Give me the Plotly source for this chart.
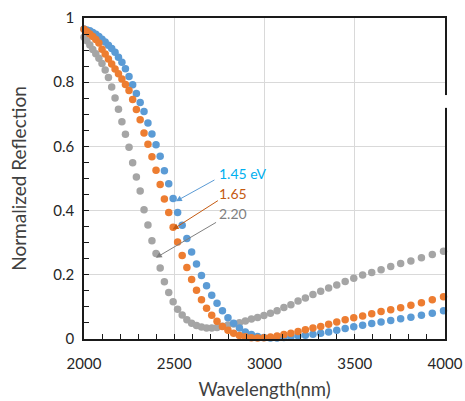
import plotly.graph_objects as go

wavelength_nm = [
    2000.0, 2016.0, 2032.2, 2048.7, 2065.4, 2082.5, 2099.8, 2117.4, 2135.3, 2153.5,
    2172.0, 2190.9, 2210.0, 2229.6, 2249.4, 2269.6, 2290.2, 2311.2, 2332.5, 2354.3,
    2376.4, 2399.0, 2422.0, 2445.4, 2469.4, 2493.8, 2518.6, 2544.0, 2569.9, 2596.3,
    2623.3, 2650.8, 2679.0, 2707.7, 2737.0, 2767.0, 2797.7, 2829.0, 2861.1, 2893.8,
    2927.4, 2961.7, 2996.9, 3032.9, 3069.7, 3107.5, 3146.2, 3185.9, 3226.6, 3268.4,
    3311.3, 3355.3, 3400.4, 3446.9, 3494.5, 3543.6, 3594.0, 3645.9, 3699.3, 3754.3,
    3811.0, 3869.4, 3929.6, 3991.7,
]

refl_145 = [
    0.966, 0.963, 0.960, 0.955, 0.949, 0.942, 0.934, 0.925, 0.915, 0.905,
    0.893, 0.878, 0.862, 0.842, 0.818, 0.792, 0.765, 0.737, 0.709, 0.673,
    0.639, 0.605, 0.569, 0.524, 0.484, 0.438, 0.394, 0.354, 0.313, 0.271,
    0.234, 0.198, 0.166, 0.136, 0.111, 0.088, 0.066, 0.049, 0.034, 0.022,
    0.014, 0.008, 0.005, 0.003, 0.003, 0.005, 0.007, 0.010, 0.012, 0.015,
    0.018, 0.022, 0.027, 0.033, 0.038, 0.043, 0.048, 0.053, 0.058, 0.063,
    0.068, 0.074, 0.080, 0.088,
]

refl_165 = [
    0.965, 0.958, 0.950, 0.942, 0.933, 0.922, 0.903, 0.888, 0.872, 0.857,
    0.841, 0.826, 0.810, 0.793, 0.774, 0.746, 0.715, 0.683, 0.642, 0.607,
    0.568, 0.526, 0.481, 0.436, 0.394, 0.348, 0.302, 0.260, 0.223, 0.185,
    0.152, 0.122, 0.096, 0.074, 0.055, 0.039, 0.027, 0.018, 0.011, 0.007,
    0.004, 0.003, 0.004, 0.006, 0.009, 0.014, 0.018, 0.023, 0.029, 0.034,
    0.039, 0.046, 0.053, 0.060, 0.066, 0.072, 0.079, 0.086, 0.091, 0.097,
    0.105, 0.113, 0.122, 0.132,
]

refl_220 = [
    0.940, 0.929, 0.916, 0.902, 0.889, 0.875, 0.858, 0.838, 0.815, 0.785,
    0.751, 0.716, 0.677, 0.638, 0.597, 0.549, 0.505, 0.461, 0.403, 0.355,
    0.306, 0.266, 0.221, 0.178, 0.145, 0.116, 0.093, 0.075, 0.060, 0.049,
    0.042, 0.037, 0.034, 0.034, 0.036, 0.040, 0.044, 0.047, 0.051, 0.056,
    0.062, 0.067, 0.073, 0.080, 0.088, 0.098, 0.107, 0.118, 0.128, 0.139,
    0.149, 0.159, 0.168, 0.179, 0.189, 0.199, 0.207, 0.216, 0.226, 0.235,
    0.243, 0.253, 0.263, 0.273,
]

x_ticks = [2000, 2500, 3000, 3500, 4000]
y_ticks = [0, 0.2, 0.4, 0.6, 0.8, 1]

FONT = "Lato"

fig = go.Figure()
series = [
    (refl_220, "#A5A5A5", "2.20"),
    (refl_145, "#5B9BD5", "1.45 eV"),
    (refl_165, "#ED7D31", "1.65"),
]
for ys, col, name in series:
    fig.add_trace(go.Scatter(
        x=wavelength_nm, y=ys, mode="markers", name=name,
        marker=dict(size=7.5, color=col, line=dict(width=0)),
        cliponaxis=False,
    ))

# label texts
labels = [
    ("1.45 eV", 2739, 0.515, "#00B0F0"),
    ("1.65", 2739, 0.453, "#C55A11"),
    ("2.20", 2739, 0.390, "#7F7F7F"),
]
for txt, lx, ly, col in labels:
    fig.add_annotation(x=lx, y=ly, xref="x", yref="y", text=txt, showarrow=False,
                       xanchor="left", yanchor="middle",
                       font=dict(family=FONT, size=14, color=col))

# arrows (tail -> tip)
arrows = [
    (2731, 0.498, 2509, 0.429, "#5B9BD5"),
    (2750, 0.434, 2491, 0.341, "#C55A11"),
    (2740, 0.366, 2398, 0.253, "#7F7F7F"),
]
for ax_, ay_, tx, ty, col in arrows:
    fig.add_annotation(x=tx, y=ty, ax=ax_, ay=ay_, xref="x", yref="y",
                       axref="x", ayref="y", text="", showarrow=True,
                       arrowhead=2, arrowsize=1.2, arrowwidth=1, arrowcolor=col,
                       standoff=0, startstandoff=0)

# small gap in the right frame
fig.add_shape(type="rect", xref="paper", yref="y", x0=0.993, x1=1.02, y0=0.72, y1=0.76,
              fillcolor="white", line=dict(width=0), layer="above")

fig.update_layout(
    width=465, height=401,
    margin=dict(l=84, r=20, t=18, b=61.5, autoexpand=False),
    paper_bgcolor="white", plot_bgcolor="white",
    showlegend=False,
    font=dict(family=FONT, color="#262626"),
    xaxis=dict(
        range=[2000, 4000], tickvals=x_ticks, ticktext=[str(v) for v in x_ticks],
        showgrid=True, gridcolor="#D9D9D9", gridwidth=1,
        showline=True, linecolor="#1a1a1a", linewidth=1.5, mirror=True,
        ticks="inside", ticklen=5, tickcolor="#1a1a1a",
        minor=dict(dtick=100, tick0=2000, ticks="inside", ticklen=5, tickcolor="#1a1a1a", showgrid=False),
        tickfont=dict(family=FONT, size=15, color="#262626"),
        ticklabelstandoff=10, ticklabeloverflow="allow",
        title=dict(text="Wavelength(nm)", font=dict(family=FONT, size=18.5, color="#404040"), standoff=12),
        zeroline=False, automargin=False,
    ),
    yaxis=dict(
        range=[0, 1], tickvals=y_ticks, ticktext=["0", "0.2", "0.4", "0.6", "0.8", "1"],
        showgrid=True, gridcolor="#D9D9D9", gridwidth=1,
        showline=True, linecolor="#1a1a1a", linewidth=1.5, mirror=True,
        ticks="inside", ticklen=5, tickcolor="#1a1a1a",
        minor=dict(dtick=0.05, tick0=0, ticks="inside", ticklen=5, tickcolor="#1a1a1a", showgrid=False),
        tickfont=dict(family=FONT, size=15, color="#262626"),
        ticklabelstandoff=5, ticklabeloverflow="allow",
        title=dict(text="Normalized Reflection", font=dict(family=FONT, size=19, color="#404040"), standoff=22),
        zeroline=False, automargin=False,
    ),
)

fig.write_html(
    "out.html",
    config={"displayModeBar": False},
    post_script="document.body.style.margin='0';document.body.style.overflow='hidden';",
)
